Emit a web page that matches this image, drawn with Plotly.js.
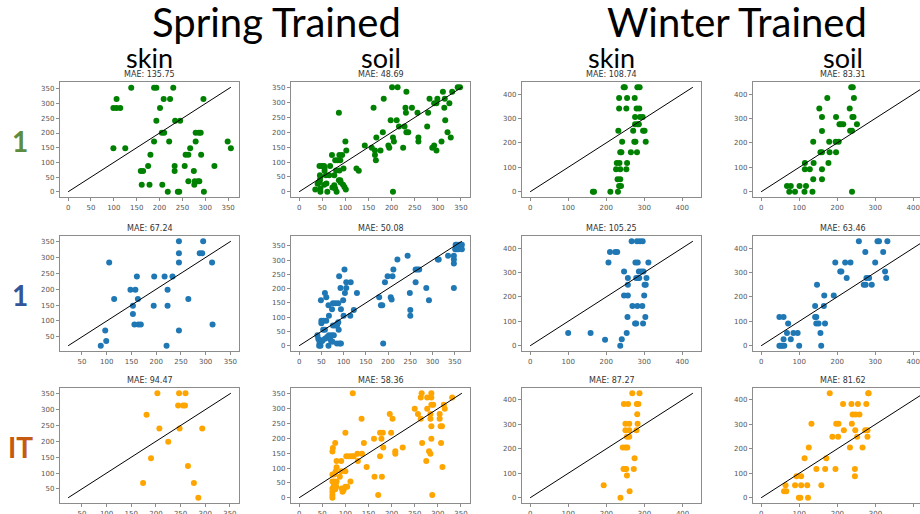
<!DOCTYPE html>
<html>
<head>
<meta charset="utf-8">
<script src="https://cdn.plot.ly/plotly-3.0.1.min.js"></script>
<style>
  html, body { margin: 0; padding: 0; background: #fff; }
  #chart { width: 920px; height: 514px; }
</style>
</head>
<body>
<div id="chart"></div>
<script>
// Predicted (x) vs observed (y) for three model variants, trained on spring or winter data,
// for skin and soil targets. Each panel also shows the 1:1 reference line.

// ---- Spring trained, skin ----
const springSkinGreenX = [99,106,114,106,138,188,193,230,209,223,296,201,193,234,245,205,210,279,286,290,188,221,279,349,99,125,267,356,180,257,263,291,159,164,175,233,255,320,233,275,161,178,206,263,276,277,284,287,218,240,243,297];
const springSkinGreenY = [285,285,285,316,354,354,354,354,316,316,316,285,242,242,242,201,201,201,201,201,171,171,171,171,148,148,148,148,126,126,126,126,71,71,88,88,88,88,71,71,24,24,24,36,24,36,36,36,0,0,0,0];

const springSkinBlueX = [88,99,97,105,115,148,158,161,153,153,156,164,169,163,196,195,217,233,223,223,221,246,246,246,246,265,288,293,295,313,314];
const springSkinBlueY = [22,37,70,284,169,198,198,240,148,122,89,89,89,169,240,148,240,240,198,148,22,351,313,284,70,169,313,313,351,284,89];

const springSkinOrangeX = [174,181,190,203,207,225,245,255,259,247,248,260,265,277,286,294];
const springSkinOrangeY = [69,284,147,352,241,199,313,313,313,352,241,352,122,69,22,241];

// ---- Spring trained, soil ----
const springSoilGreenX = [35,40,43,45,45,44,49,54,55,55,46,46,46,54,59,58,65,61,67,71,72,76,78,76,78,83,89,80,87,81,86,89,90,95,98,101,87,93,96,86,100,102,124,129,142,157,164,164,166,167,176,181,183,161,193,195,198,201,213,203,205,203,211,216,225,228,230,231,232,232,236,244,256,258,258,277,279,282,288,292,292,297,297,299,308,311,315,314,316,321,325,328,331,343,348];
const springSoilGreenY = [8,27,31,56,39,87,87,87,80,71,50,11,0,24,28,56,56,0,87,124,14,22,11,56,106,106,106,72,72,0,39,39,31,24,16,8,124,124,78,266,169,139,78,71,156,148,139,124,106,183,139,200,313,283,156,148,241,352,352,183,169,0,241,220,148,220,283,266,337,200,200,283,266,183,169,220,266,313,148,156,298,298,139,313,169,337,313,283,241,200,298,183,337,352,352];

const springSoilBlueX = [41,43,45,46,48,45,49,50,50,55,61,54,58,49,52,58,63,67,73,58,61,66,67,66,69,72,75,74,76,81,85,78,76,82,88,86,88,89,85,91,94,90,93,94,99,103,102,106,106,116,100,115,123,130,180,184,187,189,193,199,206,208,210,212,221,244,249,250,250,262,266,270,262,286,292,312,314,335,348,348,348,348,351,354,352,355,360,366,358,366];
const springSoilBlueY = [37,25,19,8,0,0,159,88,79,88,88,56,56,19,17,25,31,37,37,185,170,142,105,0,25,17,14,128,71,71,71,37,149,149,149,77,82,56,8,8,8,243,202,128,159,185,267,202,222,222,105,105,125,185,170,142,142,8,222,243,170,162,243,267,302,315,185,125,105,267,267,267,222,202,159,302,302,315,288,302,315,202,338,338,354,354,354,354,338,338];

const springSoilOrangeX = [72,73,78,72,76,72,76,81,72,75,78,72,72,72,75,79,79,81,81,80,88,91,92,94,96,100,91,100,104,100,102,108,114,118,111,116,126,127,135,136,140,146,162,163,175,175,181,178,182,179,171,196,199,202,208,208,224,250,257,263,265,266,263,275,277,277,281,284,284,284,286,286,286,290,286,286,288,304,304,306,309,307,310,313,315,331];
const springSoilOrangeY = [156,168,184,78,78,55,55,55,31,29,29,20,9,0,42,42,89,103,124,37,71,124,31,20,25,89,89,37,37,219,140,140,140,140,55,352,148,124,266,148,184,104,199,71,140,219,219,199,169,71,9,282,219,266,157,148,169,300,282,338,352,184,266,124,338,300,157,148,266,282,352,338,313,313,241,199,9,282,266,241,241,184,104,313,300,338];

// ---- Winter trained, skin ----
const winterSkinGreenX = [165,168,211,231,234,239,230,237,226,237,253,228,235,255,237,240,265,281,242,274,277,304,232,271,297,301,276,282,286,276,289,296,234,253,280,287,234,255,275,246,249,282,288];
const winterSkinGreenY = [0,0,0,0,24,24,51,51,92,92,92,118,118,118,162,162,162,162,205,205,205,205,250,250,250,250,276,276,276,306,306,306,341,341,341,341,384,384,384,428,428,428,428];

const winterSkinBlueX = [100,159,197,237,241,254,256,276,279,297,303,269,282,295,247,257,300,257,301,304,257,279,284,287,306,247,286,292,298,206,277,283,311,210,224,229,267,281,289,296];
const winterSkinBlueY = [52,52,25,0,27,52,118,91,91,91,118,163,163,163,206,206,206,250,250,250,277,277,277,277,277,304,304,304,304,341,341,341,341,384,384,384,428,428,428,428];

const winterSkinOrangeX = [193,237,261,254,245,249,252,272,274,243,250,255,254,260,250,260,279,250,260,282,281,246,257,280,284,268,287];
const winterSkinOrangeY = [51,0,27,91,118,118,118,118,161,205,205,205,249,249,276,276,276,302,302,302,341,383,383,383,383,427,427];

// ---- Winter trained, soil ----
const winterSoilGreenX = [68,78,74,89,101,114,118,115,115,128,135,137,138,137,156,160,160,160,160,160,153,177,179,180,174,196,197,197,204,206,210,216,233,234,239,239,237,241,240,243,244,252];
const winterSoilGreenY = [24,24,0,0,24,0,24,92,118,92,0,51,118,205,162,162,92,51,249,306,341,118,205,162,384,205,162,306,205,276,276,276,341,250,250,0,428,428,306,306,384,276];

const winterSoilBlueX = [48,52,56,61,100,158,48,59,71,59,68,78,85,96,142,142,145,147,145,151,168,156,165,166,191,195,208,211,225,221,235,257,270,275,274,277,284,291,300,306,310,321,326,329,332];
const winterSoilBlueY = [0,0,0,0,0,0,118,118,91,27,52,27,52,52,163,118,118,250,91,91,91,52,163,206,206,341,304,304,277,341,341,428,250,250,384,277,277,250,341,428,428,384,304,277,428];

const winterSoilOrangeX = [60,64,66,93,105,99,103,89,105,121,123,125,114,132,145,158,168,171,180,187,197,203,202,195,217,215,233,237,238,240,248,258,247,252,254,266,246,246,276,273,279,279,281,282];
const winterSoilOrangeY = [27,51,27,88,88,0,0,51,51,51,0,205,161,302,118,51,118,161,427,249,302,302,249,118,276,383,205,383,302,340,340,340,276,249,383,205,118,88,383,276,276,249,427,427];

// Mean absolute error shown above each panel
const maeGreen  = ['135.75', '48.69', '108.74', '83.31'];
const maeBlue   = ['67.24', '50.08', '105.25', '63.46'];
const maeOrange = ['94.47', '58.36', '87.27', '81.62'];

const seasonTitles = ['Spring Trained', 'Winter Trained'];
const targetTitles = ['skin', 'soil', 'skin', 'soil'];
const rowLabels = ['1', '1', 'IT'];

const GREEN = '#008000', BLUE = '#1f77b4', ORANGE = '#ffa500';
const rowLabelColors = ['#5e8c3e', '#33569a', '#c55a11'];

const panels = [
  { row: 0, col: 0, x: springSkinGreenX,  y: springSkinGreenY,  color: GREEN,  mae: maeGreen[0],  step: 50 },
  { row: 0, col: 1, x: springSoilGreenX,  y: springSoilGreenY,  color: GREEN,  mae: maeGreen[1],  step: 50 },
  { row: 0, col: 2, x: winterSkinGreenX,  y: winterSkinGreenY,  color: GREEN,  mae: maeGreen[2],  step: 100 },
  { row: 0, col: 3, x: winterSoilGreenX,  y: winterSoilGreenY,  color: GREEN,  mae: maeGreen[3],  step: 100 },
  { row: 1, col: 0, x: springSkinBlueX,   y: springSkinBlueY,   color: BLUE,   mae: maeBlue[0],   step: 50 },
  { row: 1, col: 1, x: springSoilBlueX,   y: springSoilBlueY,   color: BLUE,   mae: maeBlue[1],   step: 50 },
  { row: 1, col: 2, x: winterSkinBlueX,   y: winterSkinBlueY,   color: BLUE,   mae: maeBlue[2],   step: 100 },
  { row: 1, col: 3, x: winterSoilBlueX,   y: winterSoilBlueY,   color: BLUE,   mae: maeBlue[3],   step: 100 },
  { row: 2, col: 0, x: springSkinOrangeX, y: springSkinOrangeY, color: ORANGE, mae: maeOrange[0], step: 50 },
  { row: 2, col: 1, x: springSoilOrangeX, y: springSoilOrangeY, color: ORANGE, mae: maeOrange[1], step: 50 },
  { row: 2, col: 2, x: winterSkinOrangeX, y: winterSkinOrangeY, color: ORANGE, mae: maeOrange[2], step: 100 },
  { row: 2, col: 3, x: winterSoilOrangeX, y: winterSoilOrangeY, color: ORANGE, mae: maeOrange[3], step: 100 },
];

// Page geometry in pixels
const W = 920, H = 514;
const colLeft = [60, 291, 522, 753], colW = 179;
const rowTop = [82, 236, 388], rowH = 115;

const traces = [];
const annotations = [];
const layout = {
  width: W, height: H,
  margin: { l: 0, r: 0, t: 0, b: 0 },
  paper_bgcolor: '#ffffff', plot_bgcolor: '#ffffff',
  showlegend: false,
  font: { family: 'DejaVu Sans, sans-serif', color: '#444' },
};

const axisStyle = {
  showgrid: false, zeroline: false,
  showline: true, linecolor: '#8c8c8c', linewidth: 1.2, mirror: true,
  ticks: 'outside', ticklen: 3, tickwidth: 1, tickcolor: '#8c8c8c',
  tickfont: { family: 'DejaVu Sans, sans-serif', size: 7, color: '#555' },
  tick0: 0, fixedrange: true,
};

panels.forEach((p, i) => {
  const k = i + 1;
  const suffix = k === 1 ? '' : String(k);
  const xid = 'x' + suffix, yid = 'y' + suffix;

  // shared extent of both axes, padded by 5%
  const all = p.x.concat(p.y);
  const lo = Math.min(...all), hi = Math.max(...all);
  const pad = 0.05 * (hi - lo);
  const r0 = lo - pad, r1 = hi + pad;

  const left = colLeft[p.col];
  let right = left + colW, xr1 = r1;
  if (right > W) {            // last column runs off the page edge
    xr1 = r0 + (r1 - r0) * (W - left) / colW;
    right = W;
  }

  traces.push({
    type: 'scatter', mode: 'markers', x: p.x, y: p.y, xaxis: xid, yaxis: yid,
    marker: { color: p.color, size: 6, line: { width: 0 } }, hoverinfo: 'x+y', cliponaxis: true,
  });
  traces.push({
    type: 'scatter', mode: 'lines', x: [lo, hi], y: [lo, hi], xaxis: xid, yaxis: yid,
    line: { color: '#000000', width: 1 }, hoverinfo: 'skip',
  });

  layout['xaxis' + suffix] = Object.assign({}, axisStyle, {
    domain: [left / W, right / W], range: [r0, xr1], anchor: yid, dtick: p.step,
  });
  layout['yaxis' + suffix] = Object.assign({}, axisStyle, {
    domain: [1 - (rowTop[p.row] + rowH) / H, 1 - rowTop[p.row] / H],
    range: [r0, r1], anchor: xid, dtick: p.step,
    mirror: right < W,
  });

  annotations.push({
    xref: 'paper', yref: 'paper', x: (left + colW / 2) / W, y: 1 - (rowTop[p.row] - 1) / H,
    xanchor: 'center', yanchor: 'bottom', showarrow: false,
    text: 'MAE: ' + p.mae, font: { family: 'DejaVu Sans, sans-serif', size: 8, color: '#333' },
  });
});

// Season headings
const seasonCenters = [276, 737];
seasonTitles.forEach((t, i) => annotations.push({
  xref: 'paper', yref: 'paper', x: seasonCenters[i] / W, y: 1 - 22 / H,
  xanchor: 'center', yanchor: 'middle', showarrow: false, text: t,
  font: { family: 'Lato, sans-serif', size: 40, color: '#000' },
}));

// Target headings
targetTitles.forEach((t, i) => annotations.push({
  xref: 'paper', yref: 'paper', x: (colLeft[i] + colW / 2) / W, y: 1 - 57 / H,
  xanchor: 'center', yanchor: 'middle', showarrow: false, text: t,
  font: { family: 'Lato, sans-serif', size: 27, color: '#000' },
}));

// Row labels
rowLabels.forEach((t, i) => annotations.push({
  xref: 'paper', yref: 'paper', x: 20 / W, y: 1 - (rowTop[i] + 59) / H,
  xanchor: 'center', yanchor: 'middle', showarrow: false, text: t,
  font: { family: 'Lato, sans-serif', size: 28, color: rowLabelColors[i], weight: 'bold' },
}));

layout.annotations = annotations;

Plotly.newPlot('chart', traces, layout, { staticPlot: true, displayModeBar: false });
</script>
</body>
</html>
